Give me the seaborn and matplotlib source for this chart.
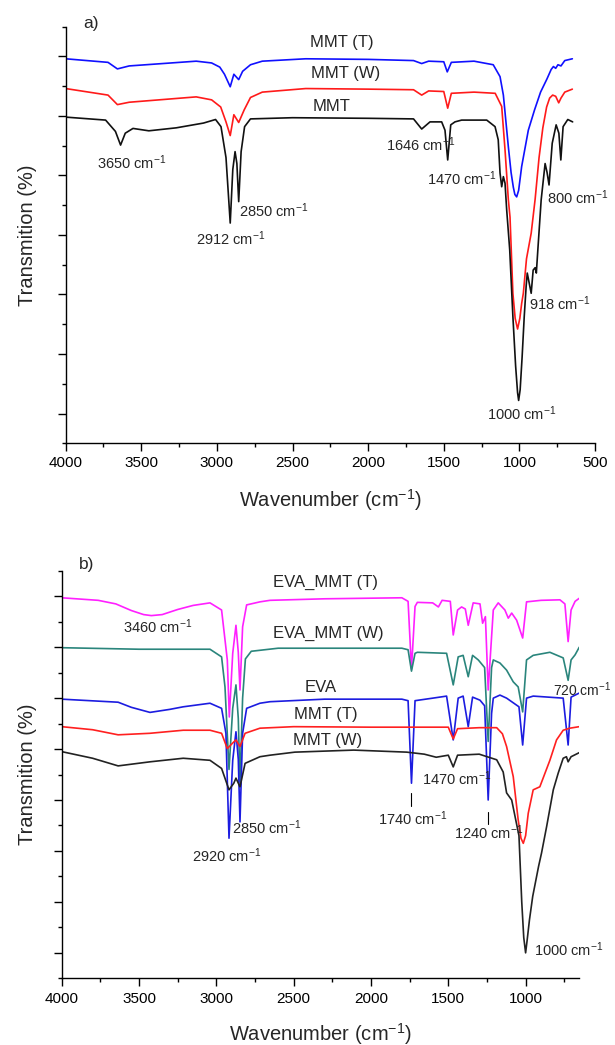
import pandas as pd
import matplotlib.pyplot as plt
import seaborn as sns
from matplotlib.ticker import MultipleLocator

# ---- Panel a: MMT samples (wavenumber, transmission offset units) ----
a_mmt_t_wn = [4000, 3720, 3658, 3580, 3137, 3035, 2981, 2950, 2912, 2888, 2856, 2830, 2778, 2700,
              2413, 2000, 1700, 1646, 1600, 1500, 1477, 1450, 1300, 1173, 1128, 1106, 1073, 1055,
              1040, 1030, 1018, 1005, 995, 985, 941, 900, 860, 818, 790, 775, 760, 745, 725, 700, 650]
a_mmt_t_val = [5.96, 5.90, 5.79, 5.84, 5.92, 5.89, 5.82, 5.70, 5.49, 5.70, 5.61, 5.75, 5.86, 5.92,
               5.96, 5.95, 5.93, 5.88, 5.92, 5.91, 5.74, 5.90, 5.92, 5.86, 5.66, 5.35, 4.48, 4.05,
               3.80, 3.68, 3.64, 3.75, 3.95, 4.15, 4.76, 5.10, 5.40, 5.62, 5.78, 5.83, 5.80, 5.86,
               5.84, 5.93, 5.96]

a_mmt_w_wn = [4000, 3720, 3658, 3580, 3137, 3035, 2975, 2940, 2912, 2888, 2856, 2820, 2778, 2700,
              2413, 2000, 1700, 1646, 1600, 1500, 1474, 1450, 1300, 1160, 1117, 1095, 1073, 1062,
              1043, 1028, 1012, 997, 985, 974, 953, 922, 896, 870, 845, 820, 800, 780, 760, 740,
              725, 700, 650]
a_mmt_w_val = [5.46, 5.35, 5.19, 5.23, 5.32, 5.27, 5.15, 4.90, 4.67, 5.02, 4.89, 5.10, 5.31, 5.40,
               5.46, 5.45, 5.44, 5.35, 5.42, 5.41, 5.13, 5.38, 5.40, 5.38, 5.16, 4.43, 3.59, 3.30,
               2.02, 1.60, 1.42, 1.60, 1.85, 2.02, 2.60, 3.03, 3.60, 4.30, 4.80, 5.15, 5.30, 5.35,
               5.33, 5.22, 5.30, 5.40, 5.45]

a_mmt_wn = [4000, 3736, 3671, 3637, 3606, 3555, 3450, 3269, 3089, 3009, 2973, 2940, 2912, 2895,
            2880, 2868, 2856, 2840, 2817, 2778, 2500, 2000, 1700, 1646, 1591, 1514, 1492, 1474,
            1454, 1426, 1382, 1216, 1161, 1140, 1128, 1117, 1106, 1095, 1084, 1064, 1043, 1025,
            1012, 1005, 995, 982, 968, 955, 948, 922, 909, 896, 888, 878, 856, 830, 817, 804, 783,
            757, 739, 726, 711, 680, 648]
a_mmt_val = [4.98, 4.93, 4.74, 4.51, 4.71, 4.79, 4.75, 4.80, 4.88, 4.94, 4.82, 4.30, 3.20, 4.10,
             4.40, 4.20, 3.56, 4.40, 4.82, 4.95, 4.97, 4.96, 4.95, 4.78, 4.90, 4.90, 4.76, 4.26,
             4.85, 4.90, 4.93, 4.93, 4.82, 4.60, 4.04, 3.81, 3.98, 3.87, 3.42, 2.75, 1.63, 0.80,
             0.35, 0.22, 0.40, 0.95, 1.63, 2.15, 2.36, 2.02, 2.41, 2.45, 2.36, 2.75, 3.59, 4.20,
             4.05, 3.84, 4.54, 4.85, 4.71, 4.26, 4.82, 4.94, 4.90]

# ---- Panel b: EVA composites ----
b_eva_mmt_t_wn = [4000, 3764, 3650, 3550, 3470, 3420, 3350, 3250, 3150, 3041, 2966, 2929, 2916,
                  2894, 2873, 2858, 2847, 2830, 2804, 2718, 2653, 2300, 1800, 1760, 1738, 1715,
                  1700, 1601, 1564, 1540, 1487, 1468, 1440, 1414, 1390, 1371, 1339, 1295, 1278,
                  1260, 1242, 1209, 1177, 1134, 1112, 1090, 1058, 1019, 994, 900, 778, 746, 725,
                  706, 680, 653]
b_eva_mmt_t_val = [6.97, 6.92, 6.85, 6.72, 6.64, 6.62, 6.64, 6.74, 6.82, 6.87, 6.73, 5.75, 4.63,
                   5.88, 6.43, 5.90, 5.16, 6.40, 6.83, 6.89, 6.92, 6.95, 6.97, 6.90, 5.57, 6.80,
                   6.88, 6.87, 6.79, 6.92, 6.90, 6.24, 6.73, 6.79, 6.75, 6.43, 6.87, 6.85, 6.47,
                   6.60, 5.16, 6.73, 6.87, 6.73, 6.57, 6.67, 6.53, 6.18, 6.89, 6.92, 6.93, 6.85,
                   6.11, 6.73, 6.90, 6.96]

b_eva_mmt_w_wn = [4000, 3500, 3041, 2966, 2944, 2918, 2894, 2873, 2858, 2847, 2830, 2812, 2774, 2600,
                  1800, 1760, 1738, 1715, 1700, 1511, 1468, 1436, 1404, 1371, 1343, 1306, 1265, 1242,
                  1220, 1209, 1166, 1123, 1080, 1048, 1019, 994, 951, 843, 757, 725, 706, 680, 653]
b_eva_mmt_w_val = [5.99, 5.96, 5.96, 5.81, 5.22, 3.60, 4.80, 5.26, 4.60, 3.35, 5.00, 5.77, 5.92, 5.98,
                   5.98, 5.95, 5.53, 5.88, 5.90, 5.88, 5.26, 5.81, 5.84, 5.42, 5.84, 5.75, 5.60, 4.15,
                   5.60, 5.75, 5.69, 5.55, 5.32, 5.22, 4.73, 5.75, 5.84, 5.90, 5.79, 5.35, 5.75, 5.85,
                   6.00]

b_eva_wn = [4000, 3635, 3550, 3429, 3300, 3214, 3041, 2966, 2938, 2918, 2894, 2873, 2858, 2847,
            2830, 2804, 2718, 2653, 2300, 1800, 1760, 1738, 1715, 1600, 1511, 1468, 1436, 1404,
            1371, 1343, 1295, 1265, 1242, 1220, 1209, 1166, 1123, 1043, 1019, 994, 951, 757, 725,
            706, 653]
b_eva_val = [4.98, 4.92, 4.82, 4.72, 4.78, 4.83, 4.90, 4.80, 4.31, 2.25, 3.78, 4.34, 3.80, 2.57,
             4.31, 4.80, 4.90, 4.93, 4.98, 4.98, 4.95, 3.33, 4.95, 5.00, 5.04, 4.18, 5.00, 5.04,
             4.44, 5.02, 4.96, 4.85, 3.00, 4.70, 5.00, 5.06, 5.00, 4.83, 4.08, 5.00, 5.04, 5.00,
             4.08, 5.02, 5.10]

b_mmt_t_wn = [4000, 3800, 3635, 3429, 3214, 3041, 2966, 2929, 2894, 2873, 2847, 2814, 2718, 2500,
              2000, 1500, 1468, 1440, 1300, 1187, 1150, 1123, 1080, 1048, 1030, 1015, 1000, 983,
              951, 908, 843, 800, 757, 714, 653]
b_mmt_t_val = [4.44, 4.38, 4.28, 4.31, 4.37, 4.37, 4.31, 4.01, 4.12, 4.18, 4.05, 4.31, 4.41, 4.44,
               4.43, 4.43, 4.20, 4.40, 4.42, 4.42, 4.30, 4.05, 3.46, 2.61, 2.25, 2.15, 2.30, 2.74,
               3.20, 3.26, 3.78, 4.18, 4.37, 4.41, 4.44]

b_mmt_w_wn = [4000, 3800, 3635, 3429, 3214, 3041, 2966, 2918, 2887, 2873, 2847, 2814, 2718, 2653,
              2492, 2111, 1769, 1655, 1578, 1500, 1468, 1440, 1300, 1187, 1145, 1123, 1090, 1043,
              1025, 1012, 1000, 990, 975, 954, 916, 897, 864, 821, 789, 757, 736, 725, 706, 653]
b_mmt_w_val = [3.95, 3.82, 3.67, 3.75, 3.82, 3.78, 3.62, 3.20, 3.33, 3.43, 3.26, 3.72, 3.85, 3.88,
               3.94, 3.98, 3.94, 3.90, 3.84, 3.88, 3.65, 3.88, 3.90, 3.79, 3.55, 3.14, 3.00, 2.30,
               1.00, 0.30, 0.00, 0.25, 0.65, 1.11, 1.70, 1.96, 2.48, 3.20, 3.53, 3.82, 3.85, 3.75,
               3.85, 3.93]

a_names = ["MMT (T)", "MMT (W)", "MMT"]
a_colors = ["#1010ff", "#ff1a1a", "#111111"]
b_names = ["EVA_MMT (T)", "EVA_MMT (W)", "EVA", "MMT (T)", "MMT (W)"]
b_colors = ["#ff20ff", "#2a857c", "#1c1ce0", "#ff2020", "#222222"]


def make_frame(names, wns, vals):
    parts = []
    for n, w, v in zip(names, wns, vals):
        parts.append(pd.DataFrame({"wn": w, "val": v, "sample": n}))
    return pd.concat(parts, ignore_index=True)


df_a = make_frame(a_names, [a_mmt_t_wn, a_mmt_w_wn, a_mmt_wn],
                  [a_mmt_t_val, a_mmt_w_val, a_mmt_val])
df_b = make_frame(b_names, [b_eva_mmt_t_wn, b_eva_mmt_w_wn, b_eva_wn, b_mmt_t_wn, b_mmt_w_wn],
                  [b_eva_mmt_t_val, b_eva_mmt_w_val, b_eva_val, b_mmt_t_val, b_mmt_w_val])

sns.set_style("ticks")
plt.rcParams["font.family"] = ["Liberation Sans", "DejaVu Sans"]
plt.rcParams["mathtext.default"] = "regular"

fig = plt.figure(figsize=(6.15, 10.45), dpi=100)
ax_a = fig.add_axes([0.1068, 0.5758, 0.8607, 0.3987])
ax_b = fig.add_axes([0.1003, 0.0638, 0.8416, 0.3900])

sns.lineplot(data=df_a, x="wn", y="val", hue="sample", hue_order=a_names,
             palette=dict(zip(a_names, a_colors)), estimator=None, legend=False,
             linewidth=1.2, ax=ax_a)
sns.lineplot(data=df_b, x="wn", y="val", hue="sample", hue_order=b_names,
             palette=dict(zip(b_names, b_colors)), estimator=None, legend=False,
             linewidth=1.2, ax=ax_b)

# axes styling
for ax, xlim, ylim in [(ax_a, (4000, 500), (-0.5, 6.5)), (ax_b, (4000, 653), (-0.5, 7.5))]:
    ax.set_xlim(*xlim)
    ax.set_ylim(*ylim)
    ax.xaxis.set_major_locator(MultipleLocator(500))
    ax.xaxis.set_minor_locator(MultipleLocator(250))
    ax.yaxis.set_major_locator(MultipleLocator(1))
    ax.yaxis.set_minor_locator(MultipleLocator(0.5))
    ax.set_yticklabels([])
    ax.tick_params(which="major", direction="out", length=6, width=1.0, colors="black",
                   labelsize=11, pad=3.5)
    ax.tick_params(which="minor", direction="out", length=3, width=1.0, colors="black")
    for s in ["left", "bottom"]:
        ax.spines[s].set_linewidth(1.0)
        ax.spines[s].set_color("black")
    sns.despine(ax=ax)
    ax.set_xlabel("Wavenumber (cm$^{-1}$)", fontsize=14.5)
    ax.set_ylabel("Transmition (%)", fontsize=14.5)

ax_a.xaxis.set_label_coords(0.5, -0.106)
ax_b.xaxis.set_label_coords(0.5, -0.104)
ax_a.yaxis.set_label_coords(-0.054, 0.5)
ax_b.yaxis.set_label_coords(-0.047, 0.5)

lab = 12
ann = 10.5
# panel a texts
ax_a.text(3886, 6.55, "a)", fontsize=12.5, ha="left", va="center", clip_on=False)
ax_a.text(2172, 6.23, "MMT (T)", fontsize=lab, ha="center", va="center")
ax_a.text(2149, 5.71, "MMT (W)", fontsize=lab, ha="center", va="center")
ax_a.text(2242, 5.15, "MMT", fontsize=lab, ha="center", va="center")
ax_a.text(3790, 4.21, "3650 cm$^{-1}$", fontsize=ann, ha="left", va="center")
ax_a.text(3137, 2.93, "2912 cm$^{-1}$", fontsize=ann, ha="left", va="center")
ax_a.text(2857, 3.40, "2850 cm$^{-1}$", fontsize=ann, ha="left", va="center")
ax_a.text(1884, 4.51, "1646 cm$^{-1}$", fontsize=ann, ha="left", va="center")
ax_a.text(1612, 3.94, "1470 cm$^{-1}$", fontsize=ann, ha="left", va="center")
ax_a.text(819, 3.62, "800 cm$^{-1}$", fontsize=ann, ha="left", va="center", clip_on=False)
ax_a.text(935, 1.84, "918 cm$^{-1}$", fontsize=ann, ha="left", va="center")
ax_a.text(1215, -0.01, "1000 cm$^{-1}$", fontsize=ann, ha="left", va="center")

# panel b texts
ax_b.text(3886, 7.63, "b)", fontsize=12.5, ha="left", va="center", clip_on=False)
ax_b.text(2294, 7.28, "EVA_MMT (T)", fontsize=lab, ha="center", va="center")
ax_b.text(2279, 6.27, "EVA_MMT (W)", fontsize=lab, ha="center", va="center")
ax_b.text(2325, 5.21, "EVA", fontsize=lab, ha="center", va="center")
ax_b.text(2294, 4.68, "MMT (T)", fontsize=lab, ha="center", va="center")
ax_b.text(2279, 4.16, "MMT (W)", fontsize=lab, ha="center", va="center")
ax_b.text(3604, 6.41, "3460 cm$^{-1}$", fontsize=ann, ha="left", va="center")
ax_b.text(822, 5.17, "720 cm$^{-1}$", fontsize=10, ha="left", va="center", clip_on=False)
ax_b.text(1672, 3.42, "1470 cm$^{-1}$", fontsize=ann, ha="left", va="center")
ax_b.text(1952, 2.64, "1740 cm$^{-1}$", fontsize=ann, ha="left", va="center")
ax_b.text(1465, 2.35, "1240 cm$^{-1}$", fontsize=ann, ha="left", va="center")
ax_b.text(2896, 2.45, "2850 cm$^{-1}$", fontsize=ann, ha="left", va="center")
ax_b.text(3155, 1.90, "2920 cm$^{-1}$", fontsize=ann, ha="left", va="center")
ax_b.text(946, 0.07, "1000 cm$^{-1}$", fontsize=ann, ha="left", va="center")
ax_b.plot([1740, 1740], [3.14, 2.88], color="black", lw=0.8)
ax_b.plot([1242, 1242], [2.76, 2.52], color="black", lw=0.8)

fig.savefig("out.png", dpi=100)
